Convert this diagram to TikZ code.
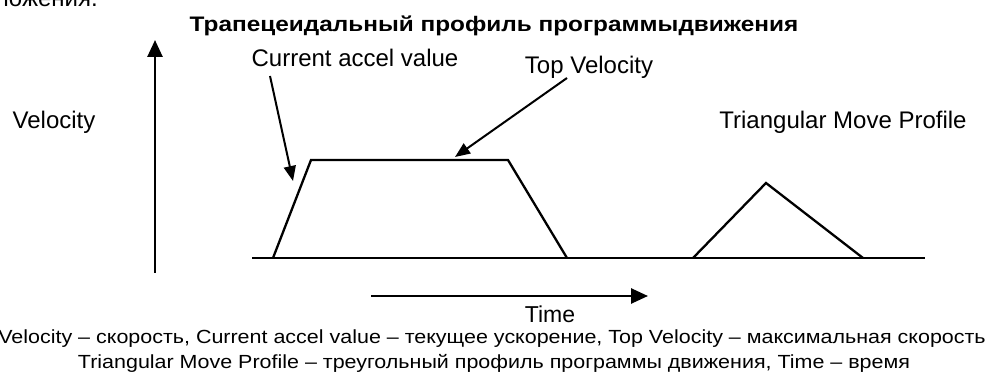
\documentclass[tikz,border=0pt]{standalone}
\usepackage{fontspec}
\setmainfont{Liberation Sans}
\newfontfamily\widesans[FakeStretch=1.13]{Liberation Sans}
\newfontfamily\widebold[FakeStretch=1.16]{Liberation Sans Bold}
\usetikzlibrary{arrows.meta}
\begin{document}
\begin{tikzpicture}[x=1pt,y=-1pt,
  lbl/.style={inner sep=0pt, anchor=base, font=\fontsize{24}{27}\selectfont},
  captext/.style={inner sep=0pt, anchor=base, font=\widesans\fontsize{19}{22}\selectfont},
  axis/.style={line width=2.8pt},
  prof/.style={line width=2.3pt, line join=miter},
  pointer/.style={line width=2pt, -{Triangle[length=15pt,width=12pt]}},
  axarrow/.style={line width=2.6pt, -{Triangle[length=17pt,width=15pt]}}]
\useasboundingbox (0,0) rectangle (999,374);
\begin{scope}
\clip (0,0) rectangle (999,374);
\node[lbl, anchor=base east] (top) at (98,7) {положения.};
\end{scope}
\node[inner sep=0pt, anchor=base, font=\widebold\fontsize{21}{25}\selectfont] (title) at (494,32) {Трапецеидальный профиль программыдвижения};
% axes
\coordinate (vbot) at (155,273);
\coordinate (vtop) at (155,40);
\draw[axarrow] (vbot) -- (vtop);
\coordinate (b0) at (252,258);
\coordinate (b1) at (925,258);
\draw[axis] (b0) -- (b1);
% trapezoid
\coordinate (t0) at (273,258);
\coordinate (t1) at (311,160);
\coordinate (t2) at (508,160);
\coordinate (t3) at (567,258);
\draw[prof] (t0) -- (t1) -- (t2) -- (t3);
% triangle
\coordinate (r0) at (693,258);
\coordinate (r1) at (766,183);
\coordinate (r2) at (863,258);
\draw[prof] (r0) -- (r1) -- (r2);
% labels
\node[lbl] (vel) at (54,129) {Velocity};
\node[lbl] (cav) at (355,67) {Current accel value};
\node[lbl] (tv) at (589,74) {Top Velocity};
\node[lbl] (tmp) at (843,129) {Triangular Move Profile};
\coordinate (cavs) at (270,76);
\coordinate (cavt) at (293,181);
\draw[pointer] (cavs) -- (cavt);
\coordinate (tvs) at (567,78);
\coordinate (tvt) at (455,157);
\draw[pointer] (tvs) -- (tvt);
% time arrow
\coordinate (ta0) at (371,296);
\coordinate (ta1) at (648,296);
\draw[axarrow] (ta0) -- (ta1);
\node[lbl, font=\fontsize{23}{26}\selectfont] (time) at (550,323) {Time};
% caption
\node[captext] (c1) at (492,343) {Velocity – скорость, Current accel value – текущее ускорение, Top Velocity – максимальная скорость};
\node[captext] (c2) at (494,368) {Triangular Move Profile – треугольный профиль программы движения, Time – время};
\end{tikzpicture}
\end{document}
